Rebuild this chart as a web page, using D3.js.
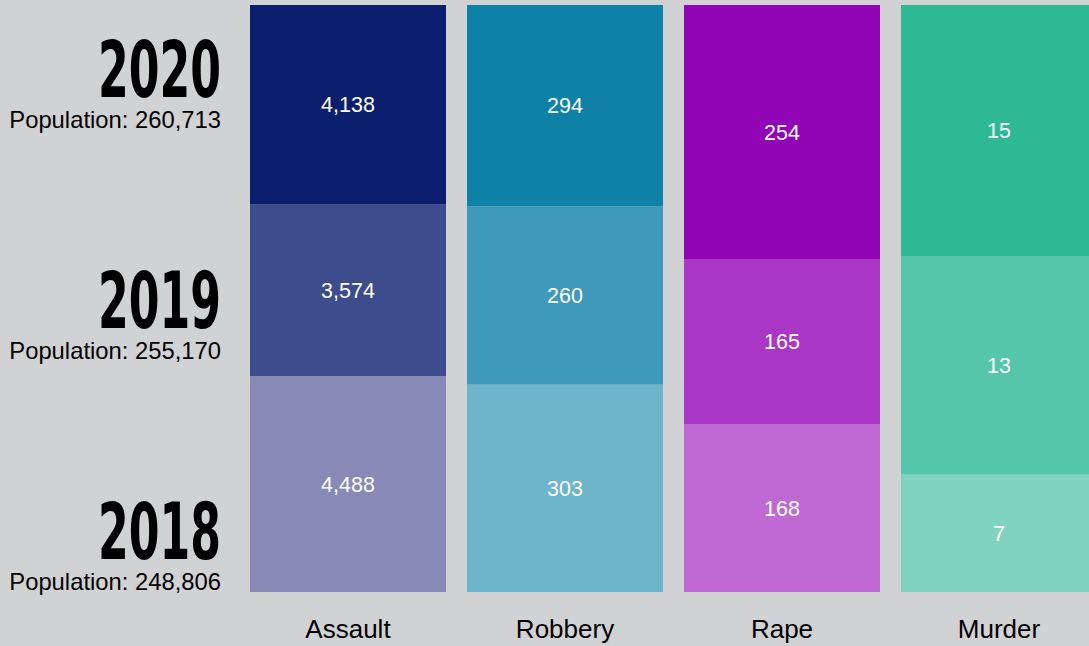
<!DOCTYPE html>
<html>
<head>
<meta charset="utf-8">
<script src="https://cdn.jsdelivr.net/npm/d3@7"></script>
<style>
  body { margin: 0; background: #d1d2d4; }
  svg { display: block; }
</style>
</head>
<body>
<div id="chart"></div>
<script>
// crime types (columns) and years (stacked, bottom -> top)
const crimes = ['Assault', 'Robbery', 'Rape', 'Murder'];
const years = ['2018', '2019', '2020'];
const populations = ['248,806', '255,170', '260,713'];

// counts per crime, in year order 2018, 2019, 2020
const assault = [4488, 3574, 4138];
const robbery = [303, 260, 294];
const rape = [168, 165, 254];
const murder = [7, 13, 15];

// colours per crime, light (2018) -> dark (2020)
const assaultColors = ['#8789b6', '#3c4c8c', '#0c1f6f'];
const robberyColors = ['#6eb4cb', '#3e99bb', '#0e81a6'];
const rapeColors = ['#c068d3', '#a936c5', '#9205b7'];
const murderColors = ['#80d4bf', '#55c6ab', '#2cb994'];

const W = 1089, H = 646;

const svg = d3.select('#chart')
    .append('svg')
    .attr('width', W)
    .attr('height', H);

svg.append('rect')
    .attr('width', W)
    .attr('height', H)
    .attr('fill', '#d1d2d4');

// build rows for the stack
const series = [assault, robbery, rape, murder];
const palette = [assaultColors, robberyColors, rapeColors, murderColors];
const rows = crimes.map((c, i) => {
    const row = { crime: c };
    years.forEach((y, j) => { row[y] = series[i][j]; });
    return row;
});

const stacked = d3.stack()
    .keys(years)
    .offset(d3.stackOffsetExpand)(rows);

const x = d3.scaleBand()
    .domain(crimes)
    .range([250, 1097])
    .paddingInner(21 / 217);

const y = d3.scaleLinear()
    .domain([0, 1])
    .range([592, 5]);

const fmt = d3.format(',');

stacked.forEach((layer, j) => {
    const g = svg.append('g');
    g.selectAll('rect')
        .data(layer)
        .enter()
        .append('rect')
        .attr('x', d => x(d.data.crime))
        .attr('y', d => y(d[1]))
        .attr('width', x.bandwidth())
        .attr('height', d => y(d[0]) - y(d[1]))
        .attr('fill', (d, i) => palette[i][j]);

    g.selectAll('text')
        .data(layer)
        .enter()
        .append('text')
        .attr('x', d => x(d.data.crime) + x.bandwidth() / 2)
        .attr('y', d => (y(d[0]) + y(d[1])) / 2)
        .attr('dy', '0.35em')
        .attr('text-anchor', 'middle')
        .attr('fill', '#ffffff')
        .style('font-family', 'Arial, "Liberation Sans", sans-serif')
        .style('font-size', '21.5px')
        .text(d => fmt(d.data[layer.key]));
});

// crime names along the bottom
svg.selectAll('.crime-label')
    .data(crimes)
    .enter()
    .append('text')
    .attr('class', 'crime-label')
    .attr('x', d => x(d) + x.bandwidth() / 2)
    .attr('y', 638)
    .attr('text-anchor', 'middle')
    .attr('fill', '#000')
    .style('font-family', 'Arial, "Liberation Sans", sans-serif')
    .style('font-size', '26px')
    .text(d => d);

// year labels on the left, 2020 at top
const yearPos = d3.scalePoint()
    .domain(years.slice().reverse())
    .range([128, 590]);

years.forEach((yr, i) => {
    svg.append('text')
        .attr('x', 221)
        .attr('y', yearPos(yr) - 31)
        .attr('text-anchor', 'end')
        .attr('textLength', 123)
        .attr('lengthAdjust', 'spacingAndGlyphs')
        .attr('fill', '#000')
        .style('font-family', '"Liberation Sans Narrow", "DejaVu Sans Condensed", sans-serif')
        .style('font-weight', 'bold')
        .style('font-size', '78px')
        .text(yr);

    svg.append('text')
        .attr('x', 221)
        .attr('y', yearPos(yr))
        .attr('text-anchor', 'end')
        .attr('fill', '#000')
        .style('font-family', 'Arial, "Liberation Sans", sans-serif')
        .style('font-size', '23.8px')
        .text('Population: ' + populations[i]);
});
</script>
</body>
</html>
